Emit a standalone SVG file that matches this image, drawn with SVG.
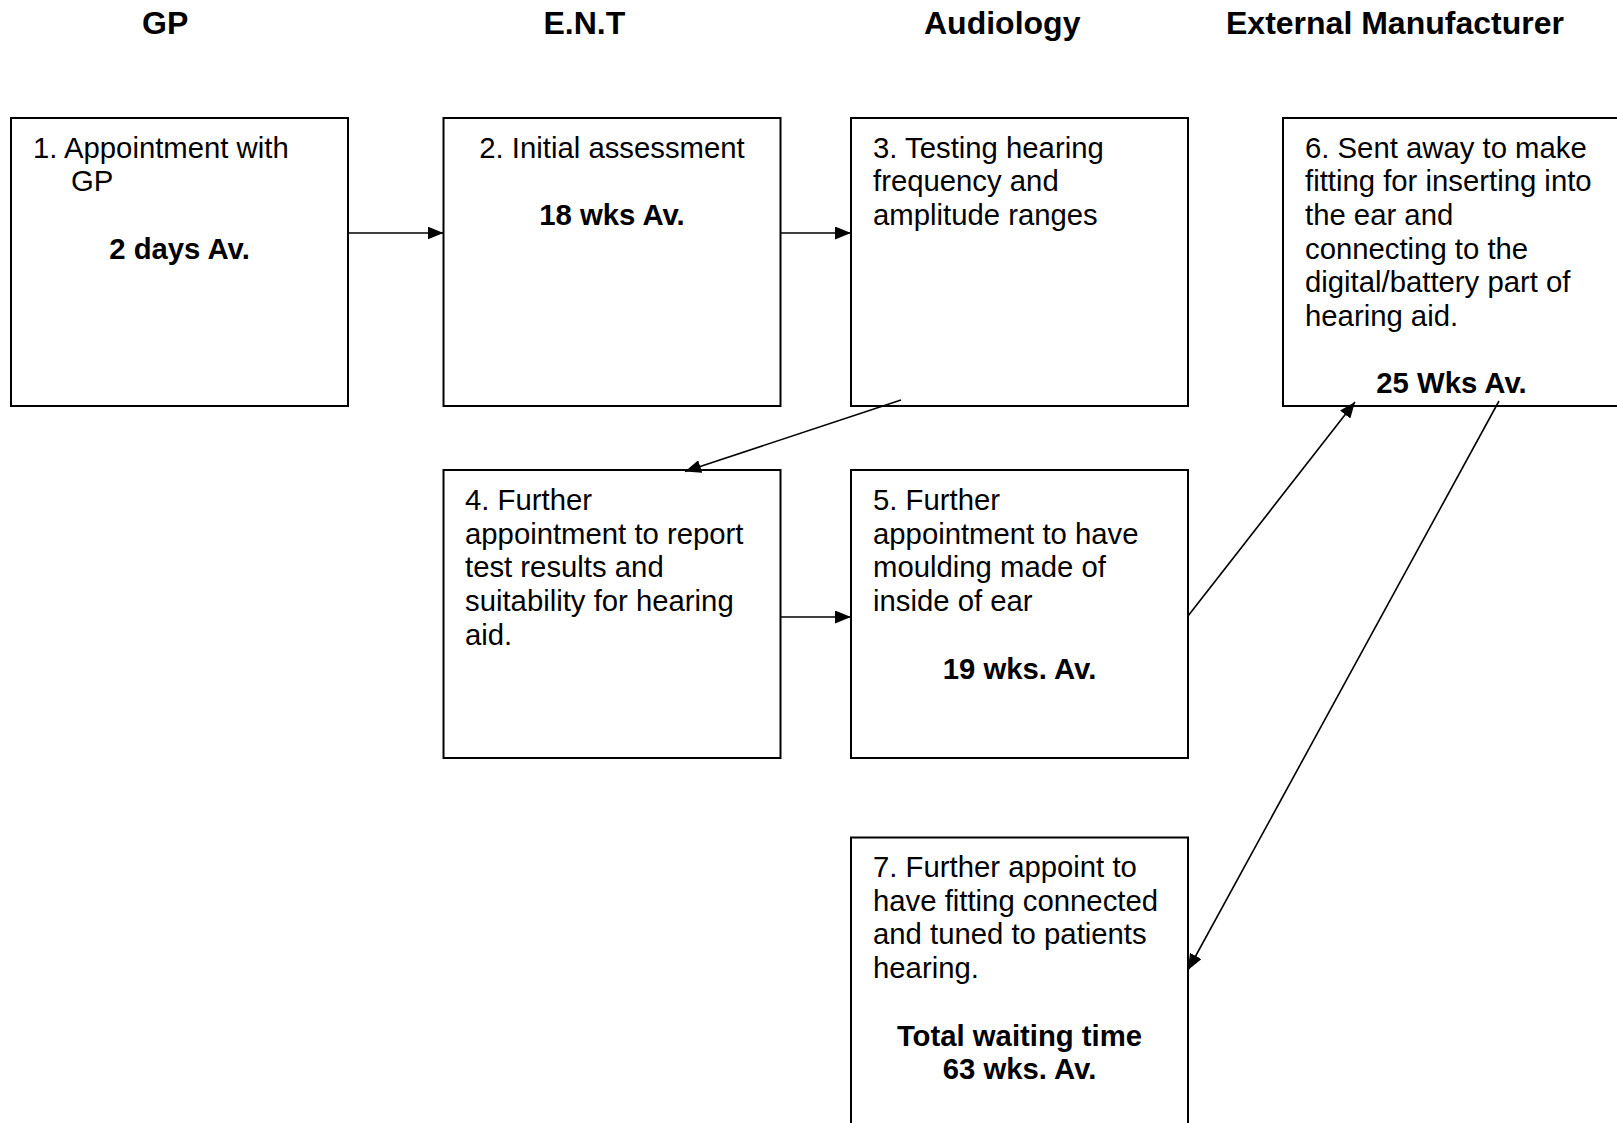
<svg xmlns="http://www.w3.org/2000/svg" width="1617" height="1123" viewBox="0 0 1617 1123">
<style>
.box{fill:#fff;stroke:#000;stroke-width:2}
.t{font-family:"Liberation Sans",Arial,sans-serif;font-size:29.3px;fill:#000}
.b{font-weight:bold}
.c{text-anchor:middle}
.h{font-family:"Liberation Sans",Arial,sans-serif;font-size:32px;font-weight:bold;fill:#000}
.con{stroke:#000;stroke-width:1.6;fill:none;marker-end:url(#ah)}
</style>
<defs>
<marker id="ah" viewBox="0 0 16 13" refX="16" refY="6.5" markerWidth="16" markerHeight="13" markerUnits="userSpaceOnUse" orient="auto">
<path d="M0,0 L16,6.5 L0,13 z" fill="#000"/>
</marker>
</defs>
<rect width="1617" height="1123" fill="#fff"/>
<g id="headers">
<text class="h" x="142" y="34">GP</text>
<text class="h" x="543.5" y="34">E.N.T</text>
<text class="h" x="924" y="34">Audiology</text>
<text class="h" x="1226" y="34">External Manufacturer</text>
</g>
<g id="node1">
<rect class="box" x="11" y="118" width="337" height="288"/>
<text class="t" x="33" y="157.5">1. Appointment with</text>
<text class="t" x="71" y="191.3">GP</text>
<text class="t b c" x="179.5" y="258.8">2 days Av.</text>
</g>
<g id="node2">
<rect class="box" x="443.5" y="118" width="337" height="288"/>
<text class="t c" x="612" y="157.5">2. Initial assessment</text>
<text class="t b c" x="612" y="225">18 wks Av.</text>
</g>
<g id="node3">
<rect class="box" x="851" y="118" width="337" height="288"/>
<text class="t" x="873" y="157.5">3. Testing hearing</text>
<text class="t" x="873" y="191.2">frequency and</text>
<text class="t" x="873" y="224.9">amplitude ranges</text>
</g>
<g id="node6">
<rect class="box" x="1283" y="118" width="337" height="288"/>
<text class="t" x="1305" y="157.5">6. Sent away to make</text>
<text class="t" x="1305" y="191.2">fitting for inserting into</text>
<text class="t" x="1305" y="224.9">the ear and</text>
<text class="t" x="1305" y="258.6">connecting to the</text>
<text class="t" x="1305" y="292.3">digital/battery part of</text>
<text class="t" x="1305" y="326">hearing aid.</text>
<text class="t b c" x="1451.5" y="393">25 Wks Av.</text>
</g>
<g id="node4">
<rect class="box" x="443.5" y="470" width="337" height="288"/>
<text class="t" x="465" y="510">4. Further</text>
<text class="t" x="465" y="543.7">appointment to report</text>
<text class="t" x="465" y="577.4">test results and</text>
<text class="t" x="465" y="611.1">suitability for hearing</text>
<text class="t" x="465" y="644.8">aid.</text>
</g>
<g id="node5">
<rect class="box" x="851" y="470" width="337" height="288"/>
<text class="t" x="873" y="510">5. Further</text>
<text class="t" x="873" y="543.7">appointment to have</text>
<text class="t" x="873" y="577.4">moulding made of</text>
<text class="t" x="873" y="611.1">inside of ear</text>
<text class="t b c" x="1019.5" y="678.5">19 wks. Av.</text>
</g>
<g id="node7">
<rect class="box" x="851" y="837.5" width="337" height="300"/>
<text class="t" x="873" y="877">7. Further appoint to</text>
<text class="t" x="873" y="910.7">have fitting connected</text>
<text class="t" x="873" y="944.4">and tuned to patients</text>
<text class="t" x="873" y="978.1">hearing.</text>
<text class="t b c" x="1019.5" y="1045.5">Total waiting time</text>
<text class="t b c" x="1019.5" y="1079.2">63 wks. Av.</text>
</g>
<g id="connectors">
<line class="con" x1="348" y1="233" x2="443.5" y2="233"/>
<line class="con" x1="780.5" y1="233" x2="851" y2="233"/>
<line class="con" x1="901" y1="400" x2="685" y2="471.5"/>
<line class="con" x1="780.5" y1="617" x2="851" y2="617"/>
<line class="con" x1="1188" y1="616" x2="1355" y2="402"/>
<line class="con" x1="1499" y1="401" x2="1188" y2="970"/>
</g>
</svg>
